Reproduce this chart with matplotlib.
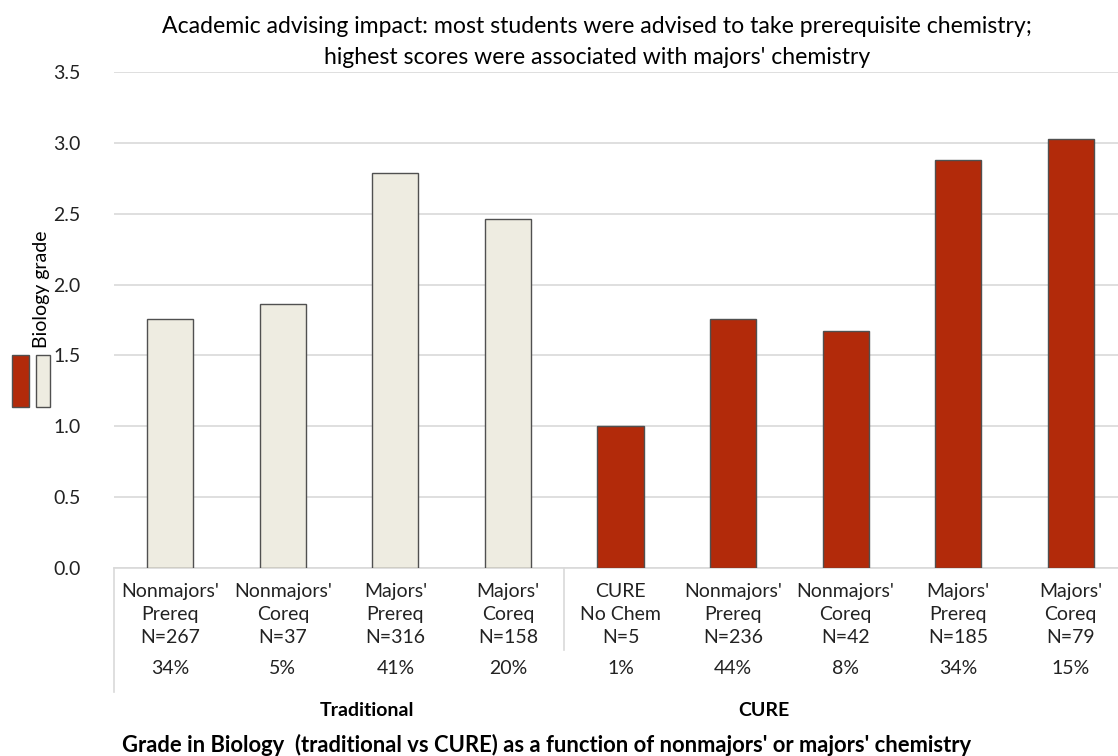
import matplotlib.pyplot as plt
from matplotlib.patches import Rectangle

plt.rcParams['font.family'] = ['Lato', 'DejaVu Sans']

categories = ["Nonmajors'\nPrereq\nN=267", "Nonmajors'\nCoreq\nN=37", "Majors'\nPrereq\nN=316",
              "Majors'\nCoreq\nN=158", "CURE\nNo Chem\nN=5", "Nonmajors'\nPrereq\nN=236",
              "Nonmajors'\nCoreq\nN=42", "Majors'\nPrereq\nN=185", "Majors'\nCoreq\nN=79"]
percents = ["34%", "5%", "41%", "20%", "1%", "44%", "8%", "34%", "15%"]
grades = [1.76, 1.86, 2.79, 2.46, 1.00, 1.76, 1.67, 2.88, 3.03]
groups = ["Traditional"] * 4 + ["CURE"] * 5

red = "#B22A0A"
tan = "#EEECE1"
W, H = 1118, 756

fig = plt.figure(figsize=(W / 100, H / 100), dpi=100)
ax = fig.add_axes([114 / W, (H - 568) / H, (1127 - 114) / W, (568 - 72) / H])

x = list(range(len(grades)))
colors = [tan if g == "Traditional" else red for g in groups]
ax.bar(x, grades, width=0.41, color=colors, edgecolor="#505050", linewidth=1, zorder=3)

ax.set_xlim(-0.5, len(grades) - 0.5)
ax.set_ylim(0, 3.5)
ax.set_yticks([0, 0.5, 1.0, 1.5, 2.0, 2.5, 3.0, 3.5])
ax.set_yticklabels([f"{v:.1f}" for v in ax.get_yticks()], fontsize=14, color="#222222")
ax.yaxis.grid(True, color="#D9D9D9", linewidth=1.2, zorder=0)
ax.tick_params(axis="y", length=0, pad=24)
for s in ["top", "right", "left"]:
    ax.spines[s].set_visible(False)
ax.spines["bottom"].set_color("#D9D9D9")
ax.spines["bottom"].set_linewidth(1.2)

ax.set_xticks(x)
ax.set_xticklabels(categories, fontsize=14, color="#222222", linespacing=1.42)
ax.tick_params(axis="x", length=0, pad=11)

trans = ax.get_xaxis_transform()
for xi, p in zip(x, percents):
    ax.text(xi, -0.202, p, transform=trans, ha="center", va="center", fontsize=14, color="#222222")

# group separators
ax.plot([-0.5, -0.5], [0, -0.25], transform=trans, color="#D9D9D9", lw=1.2, clip_on=False)
ax.plot([3.5, 3.5], [0, -0.165], transform=trans, color="#D9D9D9", lw=1.2, clip_on=False)

fig.text(367 / W, 1 - 711 / H, "Traditional", ha="center", va="center", fontsize=14, fontweight="bold")
fig.text(764 / W, 1 - 711 / H, "CURE", ha="center", va="center", fontsize=14, fontweight="bold")
fig.text(547 / W, 1 - 745 / H,
         "Grade in Biology  (traditional vs CURE) as a function of nonmajors' or majors' chemistry",
         ha="center", va="center", fontsize=15.8, fontweight="bold")

fig.text(597 / W, 1 - 42 / H,
         "Academic advising impact: most students were advised to take prerequisite chemistry;\n"
         "highest scores were associated with majors' chemistry",
         ha="center", va="center", fontsize=16.6, linespacing=1.55)

fig.text(42 / W, 1 - 289 / H, "Biology grade", rotation=90, ha="center", va="center", fontsize=14)

# legend swatches
fig.add_artist(Rectangle((12 / W, 1 - 407 / H), 17 / W, 52 / H, transform=fig.transFigure,
                         facecolor=red, edgecolor="#505050", lw=1))
fig.add_artist(Rectangle((36 / W, 1 - 407 / H), 14 / W, 52 / H, transform=fig.transFigure,
                         facecolor=tan, edgecolor="#505050", lw=1))

fig.savefig("out.png", dpi=100)
